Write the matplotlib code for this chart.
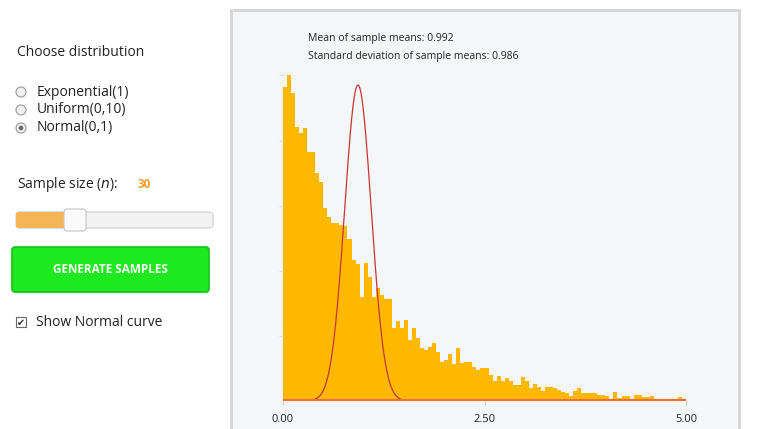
"""Sampling distribution widget: histogram of sample means with normal curve."""

import matplotlib

matplotlib.use("Agg")
import matplotlib.pyplot as plt
import numpy as np
from matplotlib.patches import Circle, FancyBboxPatch, Rectangle

BIN_EDGE_START = 0.0
BIN_WIDTH = 0.05
bin_heights = [
    314, 326, 308, 274, 268, 273, 249, 249, 228, 219,
    193, 184, 178, 178, 176, 175, 162, 141, 137, 104,
    138, 124, 104, 113, 106, 102, 102, 73, 80, 73,
    81, 61, 73, 63, 53, 51, 54, 58, 49, 39,
    41, 47, 37, 53, 38, 39, 39, 34, 31, 33,
    33, 26, 20, 25, 20, 23, 20, 16, 16, 24,
    20, 13, 17, 14, 10, 14, 14, 13, 11, 9,
    8, 5, 10, 13, 8, 8, 8, 8, 6, 6,
    5, 2, 9, 3, 5, 5, 2, 6, 6, 4,
    4, 5, 2, 2, 2, 2, 1, 1, 4, 1,
]
curve_mean = 0.93
curve_sd = 0.165
curve_peak = 316
x_ticks = [0.0, 2.5, 5.0]
x_tick_labels = ["0.00", "2.50", "5.00"]
mean_text = "Mean of sample means: 0.992"
sd_text = "Standard deviation of sample means: 0.986"
radio_labels = ["Exponential(1)", "Uniform(0,10)", "Normal(0,1)"]
selected_radio = 2
sample_size = 30

plt.rcParams["font.family"] = ["Open Sans", "DejaVu Sans"]

W, H = 781, 429
fig = plt.figure(figsize=(W / 100, H / 100), dpi=100)
fig.patch.set_facecolor("white")

ui = fig.add_axes([0, 0, 1, 1])
ui.set_xlim(0, W)
ui.set_ylim(H, 0)
ui.axis("off")

# chart panel
ui.add_patch(Rectangle((231, 10), 508, 430, facecolor="#f5f6f8",
                       edgecolor="#d4d4d4", linewidth=2))

# left controls
ui.text(17, 53, "Choose distribution", fontsize=10, va="center", color="#222")
for i, label in enumerate(radio_labels):
    y = 92 + i * 18
    ui.add_patch(Circle((21, y), 5, facecolor="#f0f0f0", edgecolor="#999", lw=0.8))
    if i == selected_radio:
        ui.add_patch(Circle((21, y), 2.3, facecolor="#666", edgecolor="none"))
    ui.text(37, y, label, fontsize=10, va="center", color="#222")

ui.text(17, 185, r"Sample size ($\it{n}$):", fontsize=10, va="center", color="#222")
ui.text(138, 185, str(sample_size), fontsize=8.5, va="center", color="#f0a030",
        fontweight="bold")

ui.add_patch(FancyBboxPatch((16, 212), 197, 16, boxstyle="round,pad=0,rounding_size=3",
                            facecolor="#f2f2f2", edgecolor="#d0d0d0", lw=0.8))
ui.add_patch(FancyBboxPatch((16, 212), 60, 16, boxstyle="round,pad=0,rounding_size=3",
                            facecolor="#f5b556", edgecolor="none"))
ui.add_patch(FancyBboxPatch((64, 209), 22, 22, boxstyle="round,pad=0,rounding_size=3",
                            facecolor="#fafafa", edgecolor="#c5c5c5", lw=0.8))

ui.add_patch(FancyBboxPatch((12, 247), 197, 45, boxstyle="round,pad=0,rounding_size=3",
                            facecolor="#1ee81e", edgecolor="#18c018", lw=1.2))
ui.text(110, 269.5, "GENERATE SAMPLES", fontsize=8.5, ha="center", va="center",
        color="white", fontweight="bold")

ui.add_patch(Rectangle((16, 317), 10, 10, facecolor="white", edgecolor="#666", lw=0.8))
ui.text(21, 322.5, "\u2714", fontsize=7, ha="center", va="center", color="#333",
        family="DejaVu Sans")
ui.text(36, 322, "Show Normal curve", fontsize=10, va="center", color="#222")

ui.text(308, 38, mean_text, fontsize=7.5, va="center", color="#222")
ui.text(308, 56, sd_text, fontsize=7.5, va="center", color="#222")

# histogram
x0, x1, y_base, y_top = 283, 686, 401, 75
ax = fig.add_axes([x0 / W, (H - y_base) / H, (x1 - x0) / W, (y_base - y_top) / H])
ax.set_facecolor("none")
edges = BIN_EDGE_START + BIN_WIDTH * np.arange(len(bin_heights))
ax.bar(edges, bin_heights, width=BIN_WIDTH, align="edge", color="#ffb800",
       edgecolor="none")
xs = np.linspace(0, 5, 600)
ys = curve_peak * np.exp(-0.5 * ((xs - curve_mean) / curve_sd) ** 2)
ax.plot(xs, ys, color="#cc3333", lw=0.9)
ax.axhline(0.8, color="#f07030", lw=1.5)
ax.set_xlim(0, 5)
ax.set_ylim(0, 326)
for s in ax.spines.values():
    s.set_visible(False)
ax.set_xticks(x_ticks)
ax.set_xticklabels(x_tick_labels, fontsize=8, color="#222")
ax.tick_params(axis="x", length=3, color="#ccc", pad=6)
ax.set_yticks([65, 130, 195, 260, 326])
ax.set_yticklabels([])
ax.tick_params(axis="y", length=3, color="#ddd")

fig.savefig("out.png", dpi=100)
